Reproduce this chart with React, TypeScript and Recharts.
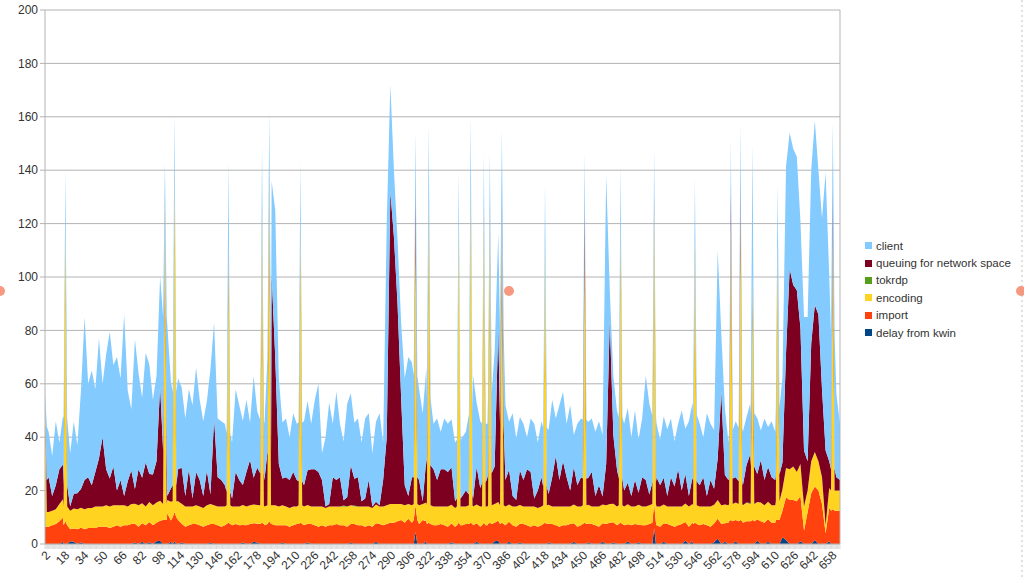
import React from "react";
import {
  Area,
  AreaChart,
  CartesianGrid,
  ReferenceLine,
  XAxis,
  YAxis,
} from "recharts";

// Background samples every 3rd frame (2, 5, 8, ... 665); values in ms.
const FIRST_FRAME = 2;
const FRAME_STEP = 3;

const importMs = [
  6.5, 6.5, 7, 7.5, 8.5, 9, 7, 4.5, 5, 5.5,
  5.5, 5.5, 6, 6, 6, 6.5, 6.5, 6.5, 6, 6.5,
  7, 6.5, 7, 7, 7.5, 7, 6.5, 7, 7, 7.5,
  7, 7, 7.5, 9, 11.5, 8, 10, 9, 7, 6.5,
  7, 7.5, 7.5, 7, 6.5, 7, 7, 7.5, 7, 6.5,
  7, 7.5, 7, 7.5, 7, 6.5, 7, 7.5, 7, 7,
  7.5, 7, 7.5, 7.5, 7, 7, 6.5, 7, 6.5, 7,
  7.5, 7.5, 7, 7, 7.5, 7, 6.5, 7, 6.5, 7,
  7, 7.5, 7, 7, 6.5, 7, 7.5, 7, 7, 6.5,
  7, 6.5, 7, 7.5, 7, 7.5, 8, 8, 8.5, 9,
  8, 9.5, 8, 9, 7.5, 9, 7.5, 7.5, 7, 7,
  7.5, 7, 6.5, 7, 6.5, 7, 7, 7.5, 7.5, 7,
  7, 6.5, 7, 7, 7.5, 7, 7.5, 7.5, 7, 7.5,
  7, 6.5, 7, 7.5, 7, 6.5, 7, 6.5, 7, 7.5,
  7, 7.5, 7, 6.5, 7, 7, 7.5, 7, 6.5, 7,
  7.5, 7, 7.5, 7, 6.5, 7, 7.5, 8, 7.5, 7,
  7.5, 7, 6.5, 7, 7.5, 6.5, 7, 7, 7.5, 8,
  7, 6.5, 7, 7.5, 7, 6.5, 7, 7.5, 7, 6.5,
  7, 7.5, 7, 7.5, 7, 6.5, 7, 7.5, 7.5, 7,
  8, 8.5, 8, 8.5, 8, 8.5, 8.5, 8.5, 8, 8.5,
  8, 8.5, 8, 8, 9, 10, 16, 16.5, 16.5, 16,
  17, 5, 12, 19, 20, 20, 15, 4, 12.5, 12.5, 12.5, 12.5,
];

const encoding = [
  5.5, 5.5, 5.5, 5.5, 6.5, 7, 7, 7, 7.5, 7.5,
  7.5, 7.5, 7.5, 7.5, 8, 7.5, 7.5, 8, 8, 8,
  7.5, 8, 7.5, 7, 7.5, 7.5, 8, 7.5, 7, 7.5,
  7.5, 7.5, 7.5, 6, 5, 7, 6, 7, 7.5, 7.5,
  7, 6.5, 7, 7, 7, 7.5, 7.5, 7, 7, 7.5,
  7, 7, 7, 6.5, 7, 7.5, 7, 7, 7, 7,
  7, 7, 7, 7, 7.5, 7, 7.5, 7, 7, 7,
  6.5, 7, 7, 7, 6.5, 7, 7.5, 7, 7, 7,
  7, 6.5, 7, 7, 7.5, 7, 6.5, 7, 7, 7.5,
  7, 7, 7, 6.5, 7, 7, 7, 7, 6.5, 6,
  6.5, 5.5, 6.5, 6, 7, 6, 7, 7, 7, 7,
  6.5, 7, 7.5, 7, 7, 7, 7, 6.5, 7, 7,
  7, 7.5, 7, 7, 7, 7, 7, 7, 7, 6.5,
  7, 7.5, 7, 6.5, 7, 7.5, 7, 7, 7, 7,
  7, 6.5, 7, 7.5, 7, 7, 6.5, 7, 7.5, 7,
  7, 7, 6.5, 7, 7.5, 7, 7, 7, 7, 7,
  7, 7, 7.5, 7, 6.5, 7.5, 7, 7, 7, 7,
  7, 7.5, 7, 6.5, 7, 7.5, 7, 6.5, 7, 7.5,
  7, 7, 7, 6.5, 7, 7.5, 7, 7, 7, 7,
  6.5, 6.5, 6.5, 6.5, 6.5, 7, 6.5, 6.5, 6.5, 7,
  6.5, 6.5, 6.5, 6.5, 7, 8, 11, 11.5, 12.5, 11,
  12, 9, 8, 12, 13, 11, 10, 3, 7.5, 7.5, 7.5, 7.5,
];

const queuing = [
  12, 13, 5.5, 9, 13, 13, 8, 1.5, 5.5, 6,
  7, 11, 11.5, 8.5, 13, 18, 26, 13.5, 10.5, 14.5,
  5.5, 9.5, 3.5, 9.5, 12.5, 5.5, 13.5, 9.5, 16.5, 10.5,
  11.5, 15.5, 43, 20, 1.5, 5, 6, 12, 13.5, 4,
  14, 3, 12.5, 10, 4.5, 13, 3.5, 32.5, 11, 10,
  8, 5, 3, 13, 10, 7.5, 13, 17, 10, 14,
  12, 10, 20, 86.5, 55.5, 16, 10, 11, 10.5, 13,
  10, 9, 8, 13, 14, 14, 13, 10, 0.5, 1,
  11, 10, 11, 2, 3.5, 15, 10, 11, 2, 3,
  10, 0.5, 1, 0.5, 10, 25.5, 117, 100, 75, 40,
  7.5, 3, 10.5, 10, 9.5, 1, 16.5, 15, 14, 10,
  14, 14, 13, 14, 2.5, 3, 4, 6, 4, 3,
  14, 7, 9, 11, 12, 14, 65.5, 30, 10, 13,
  4, 2.5, 13, 10, 14, 13, 3, 6.5, 11, 7,
  4, 11, 19, 10, 17, 11, 6, 14, 8, 11,
  10, 10, 13, 4, 8, 3, 15.5, 69, 25.5, 14,
  10, 6, 8, 4, 10, 4.5, 11, 10, 4, 8,
  11, 8, 10, 4, 11, 7.5, 14, 6, 11, 4,
  10, 9, 8, 11, 4, 10, 6, 15.5, 42.5, 11,
  9.5, 9.5, 9.5, 8.5, 7.5, 14, 18, 14, 10.5, 16,
  9.5, 13, 10.5, 9.5, 10, 10, 43, 75, 68, 68,
  51, 21, 11, 44, 55, 55, 33, 28, 10, 8, 5, 4,
];

const client = [
  20, 17, 15, 24, 10, 18, 25, 20, 27, 18,
  37, 61, 35, 43, 31, 45, 20, 43, 55, 38,
  50, 38, 68, 34, 23, 56, 36, 30, 41, 41,
  28, 32, 41, 50, 64, 40, 35, 34, 30, 29,
  30, 35, 39, 30, 28, 26, 47, 36, 22, 22,
  23, 22, 21, 31, 28, 24, 27, 14, 38, 21,
  20, 21, 35, 35, 55, 32, 21, 22, 16, 22,
  21, 22, 24, 26, 17, 26, 33, 10, 26, 38,
  20, 33, 20, 22, 35, 27, 21, 22, 22, 30,
  25, 20, 30, 34.5, 14, 80, 40, 25, 24, 28,
  40, 52, 43, 38, 34, 33, 34, 25, 17, 23,
  14, 19, 18, 18, 22, 22, 22, 22, 30, 46,
  24, 25, 22, 20, 30, 43, 35, 35, 28, 18,
  31, 23, 20, 21, 12, 20, 28, 18, 21, 22,
  24, 29, 14, 28, 26, 20, 32, 12, 23, 22,
  22, 21, 20, 24, 24, 23, 108, 11, 22, 22,
  23, 25, 28, 22, 26, 20, 22, 39, 34, 25,
  20, 17, 23, 25, 22, 17, 17, 30, 17, 28,
  28, 25, 23, 15, 31, 21, 22, 78, 22, 25,
  14, 18, 21, 20, 20, 18, 19, 20, 21, 11,
  23, 15, 21, 18, 25, 32, 70, 51, 51, 50,
  40, 50, 54, 65, 69, 54, 64, 104, 70, 50, 31, 21,
];

// one-frame spikes (mostly encoding) and their peak values
const spikeFrames = [
  2, 19, 102, 110, 155, 183, 189, 215, 311, 322, 347, 357, 368, 373, 383, 419,
  452, 482, 510, 544, 574, 582, 592, 613, 659,
];
const spikeImport = [
  6.5, 8.5, 9, 11, 8, 8, 8.5, 8, 10, 8, 8, 8, 8, 8, 8, 8, 8, 8, 9, 8, 9, 9, 9,
  9, 13,
];
const spikeEncoding = [
  48.5, 111.5, 121, 129, 102, 117, 131.5, 112, 108, 122, 112, 127, 117, 117,
  117, 105, 106, 112, 112, 107, 112, 117, 91, 101, 105,
];
const spikeQueuing = [
  0, 2, 2, 2, 5, 2, 2, 2, 15, 2, 2, 2, 2, 2, 5, 1, 15, 2, 4, 2, 13, 12, 2, 2, 17,
];
const spikeClient = [
  2, 18, 11, 18, 29, 22, 20, 21, 17, 25, 18, 23, 19, 20, 25, 21, 18, 20, 17, 20,
  18, 20, 48, 23, 23,
];

// kwin delay and tokrdp are zero nearly everywhere: [frame, ms] where visible
const kwinSpots: [number, number][] = [
  [17, 0.8], [23, 1], [26, 0.8], [32, 0.6], [77, 0.6], [83, 0.8], [89, 0.7],
  [95, 1], [98, 1.2], [107, 0.8], [110, 1], [116, 0.6], [140, 0.5], [167, 0.6],
  [176, 0.8], [179, 0.6], [200, 0.5], [221, 0.6], [257, 0.5], [278, 0.8],
  [311, 4.5], [320, 1], [341, 0.7], [362, 0.8], [377, 1], [380, 1.2], [389, 0.8],
  [398, 0.6], [422, 0.7], [443, 0.8], [455, 0.7], [467, 0.8], [476, 0.6],
  [488, 0.9], [497, 0.7], [510, 6], [518, 0.8], [536, 1.2], [542, 1], [560, 0.7],
  [563, 2], [569, 0.8], [578, 1], [596, 1.2], [605, 0.8], [617, 2.5], [620, 1.5],
  [632, 1], [644, 1.5], [656, 1],
];
const tokrdpSpots: [number, number][] = [[251, 0.4], [260, 0.4], [590, 0.4]];

const tickLabels = [
  2, 18, 34, 50, 66, 82, 98, 114, 130, 146, 162, 178, 194, 210, 226, 242, 258,
  274, 290, 306, 322, 338, 354, 370, 386, 402, 418, 434, 450, 466, 482, 498,
  514, 530, 546, 562, 578, 594, 610, 626, 642, 658,
];
const yTicks = [0, 20, 40, 60, 80, 100, 120, 140, 160, 180, 200];

const LAST_FRAME = FIRST_FRAME + FRAME_STEP * (client.length - 1);
const SPIKE_HALF_WIDTH = 1.5;

const allFrames = Array.from(
  { length: LAST_FRAME - FIRST_FRAME + 1 },
  (_, i) => FIRST_FRAME + i
);
const labelSet = new Set(tickLabels);
const kwinAt = new Map(kwinSpots);
const tokAt = new Map(tokrdpSpots);

type Vals = { importMs: number; encoding: number; queuing: number; client: number };

const makeRow = (frame: number, v: Vals) => ({
  frame,
  kwin: kwinAt.get(frame) ?? 0,
  importMs: v.importMs ?? 0,
  encoding: v.encoding ?? 0,
  tokrdp: tokAt.get(frame) ?? 0,
  queuing: v.queuing ?? 0,
  client: v.client ?? 0,
});

// each spike replaces the background sample it falls on; that sample's values
// sit at the spike's feet
const spikeAtSample = new Map(
  spikeFrames.map((f, k) => [Math.round((f - FIRST_FRAME) / FRAME_STEP), k])
);

const rows: ReturnType<typeof makeRow>[] = [];
client.forEach((c, i) => {
  const frame = FIRST_FRAME + FRAME_STEP * i;
  const base = {
    importMs: importMs[i],
    encoding: encoding[i],
    queuing: queuing[i],
    client: c,
  };
  const k = spikeAtSample.get(i);
  if (k === undefined) {
    rows.push(makeRow(frame, base));
    return;
  }
  const s = spikeFrames[k];
  if (s - SPIKE_HALF_WIDTH >= FIRST_FRAME) rows.push(makeRow(s - SPIKE_HALF_WIDTH, base));
  rows.push(
    makeRow(s, {
      importMs: spikeImport[k],
      encoding: spikeEncoding[k],
      queuing: spikeQueuing[k],
      client: spikeClient[k],
    })
  );
  if (s + SPIKE_HALF_WIDTH <= LAST_FRAME) rows.push(makeRow(s + SPIKE_HALF_WIDTH, base));
});
rows.sort((a, b) => a.frame - b.frame);

// bottom-to-top stacking order; legend lists them reversed
const SERIES = [
  { key: "kwin", name: "delay from kwin", color: "#004586" },
  { key: "importMs", name: "import", color: "#ff420e" },
  { key: "encoding", name: "encoding", color: "#ffd320" },
  { key: "tokrdp", name: "tokrdp", color: "#579d1c" },
  { key: "queuing", name: "queuing for network space", color: "#7e0021" },
  { key: "client", name: "client", color: "#83caff" },
];

const FONT = '"Liberation Sans", Arial, sans-serif';
const AXIS_GRAY = "#b3b3b3";

function FrameTick(props: any) {
  const { x, y, payload } = props;
  const v = payload?.value;
  return (
    <g>
      <line x1={x} x2={x} y1={y} y2={y + 5} stroke="#c6c6c6" strokeWidth={0.6} />
      {labelSet.has(v) && (
        <text
          x={x + 3}
          y={y + 9}
          dy="0.35em"
          transform={`rotate(-45, ${x + 3}, ${y + 9})`}
          textAnchor="end"
          fontSize={12}
          fontFamily={FONT}
          fill="#333"
        >
          {v}
        </text>
      )}
    </g>
  );
}

function Legend() {
  return (
    <div
      style={{
        position: "absolute",
        left: 865,
        top: 237,
        fontFamily: FONT,
        fontSize: 11.5,
        color: "#333",
      }}
    >
      {[...SERIES].reverse().map((s) => (
        <div
          key={s.key}
          style={{ display: "flex", alignItems: "center", height: 17.4 }}
        >
          <span
            style={{
              width: 7,
              height: 7,
              background: s.color,
              marginRight: 4,
              display: "inline-block",
            }}
          />
          {s.name}
        </div>
      ))}
    </div>
  );
}

export default function App() {
  return (
    <div
      style={{
        position: "absolute",
        left: 0,
        top: 0,
        width: 1024,
        height: 579,
        background: "#fff",
        overflow: "hidden",
      }}
    >
      <AreaChart
        width={1024}
        height={579}
        data={rows}
        margin={{ top: 10, right: 184, bottom: 5, left: 0 }}
      >
        <CartesianGrid vertical={false} stroke={AXIS_GRAY} />
        <XAxis
          dataKey="frame"
          type="number"
          domain={[FIRST_FRAME, LAST_FRAME]}
          ticks={allFrames}
          interval={0}
          height={30}
          tickLine={false}
          tickSize={0}
          tickMargin={0}
          axisLine={{ stroke: AXIS_GRAY }}
          tick={<FrameTick />}
        />
        <YAxis
          domain={[0, 200]}
          ticks={yTicks}
          width={45}
          tickSize={5}
          tickMargin={2}
          axisLine={{ stroke: AXIS_GRAY }}
          tickLine={{ stroke: AXIS_GRAY }}
          tick={{ fontSize: 12, fontFamily: FONT, fill: "#333" }}
        />
        <ReferenceLine x={LAST_FRAME} stroke={AXIS_GRAY} />
        {SERIES.map((s) => (
          <Area
            key={s.key}
            dataKey={s.key}
            name={s.name}
            type="linear"
            stackId="frames"
            stroke="none"
            fill={s.color}
            fillOpacity={1}
            dot={false}
            activeDot={false}
            isAnimationActive={false}
          />
        ))}
      </AreaChart>
      <Legend />
      {/* selection handles / frame of the chart object */}
      <svg
        width={1024}
        height={579}
        style={{ position: "absolute", left: 0, top: 0, pointerEvents: "none" }}
      >
        <line
          x1={1022}
          x2={1022}
          y1={0}
          y2={579}
          stroke="#999"
          strokeWidth={0.6}
          strokeDasharray="2 3"
        />
        <circle cx={0} cy={291} r={5} fill="#f4876a" opacity={0.85} />
        <circle cx={509} cy={291} r={5} fill="#f4876a" opacity={0.85} />
        <circle cx={1021} cy={291} r={5} fill="#f4876a" opacity={0.85} />
      </svg>
    </div>
  );
}
